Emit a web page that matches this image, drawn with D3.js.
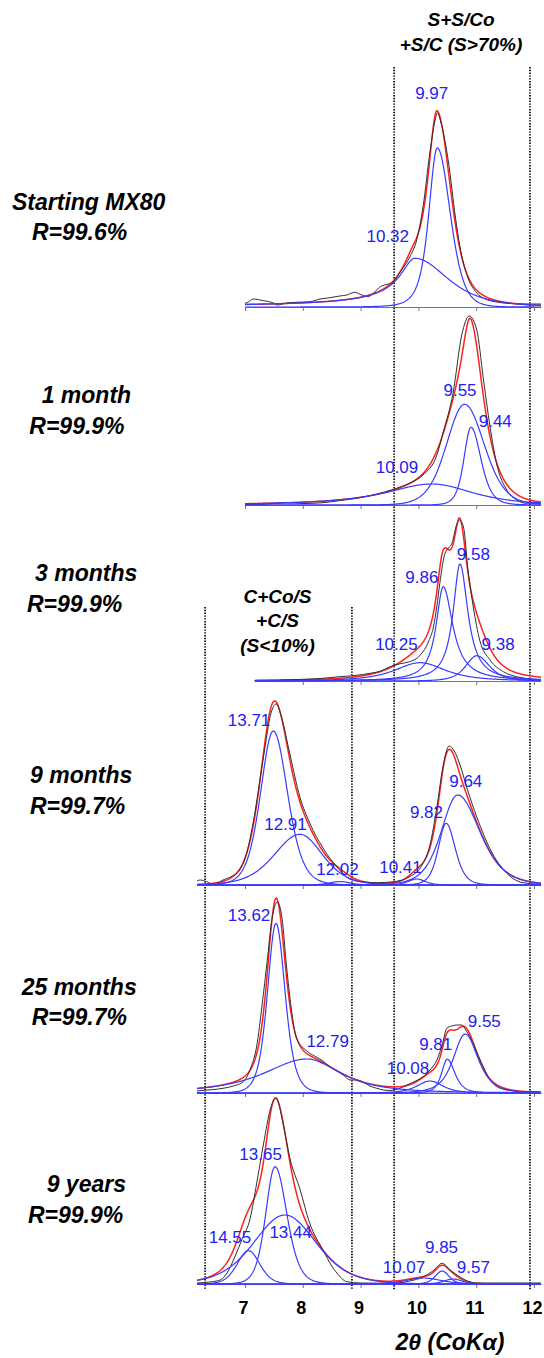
<!DOCTYPE html>
<html>
<head>
<meta charset="utf-8">
<script src="https://cdn.jsdelivr.net/npm/d3@7"></script>
<style>
  body { margin: 0; background: #fff; }
  svg { display: block; }
  text { font-family: "Liberation Sans", Arial, sans-serif; }
</style>
</head>
<body>
<svg id="chart" width="544" height="1358"></svg>
<script>
// sample names and fit quality
const samples = ["Starting MX80", "1 month", "3 months", "9 months", "25 months", "9 years"];
const rFactors = ["R=99.6%", "R=99.9%", "R=99.9%", "R=99.7%", "R=99.7%", "R=99.9%"];
const xTicks = [7, 8, 9, 10, 11, 12];
const zoneLines = [6.31, 8.85, 9.58, 11.93];

// 2theta range of each decomposition
const fitRanges = [[7.0, 12.12], [7.0, 12.12], [7.17, 12.12], [6.17, 12.12], [6.17, 12.12], [6.17, 12.12]];

// fitted peaks: [d (A), 2theta, height, hwhm left, hwhm right, shape left, shape right]
const peaksMX80 = [
  ["9.97", 10.327, 159, 0.173, 0.26, 2, 4],
  ["10.32", 9.94, 48.7, 0.37, 0.66, 0.6, 2]
];
const peaks1m = [
  ["10.09", 10.23, 21, 0.95, 0.83, 1.2, 2],
  ["9.55", 10.8, 100.7, 0.37, 0.4, 5, 5],
  ["9.44", 10.91, 77.7, 0.144, 0.202, 3, 3]
];
const peaks3m = [
  ["10.25", 10.03, 18.3, 0.52, 0.52, 1.5, 1.5],
  ["9.86", 10.43, 94.3, 0.15, 0.2, 1, 1],
  ["9.58", 10.72, 117, 0.145, 0.165, 1, 1],
  ["9.38", 11.01, 25.3, 0.225, 0.26, 2, 2]
];
const peaks9m = [
  ["13.71", 7.49, 154, 0.26, 0.29, 4, 4],
  ["12.91", 7.95, 50.7, 0.52, 0.46, 4, 4],
  ["12.02", 8.64, 3.5, 0.2, 0.2, 3, 3],
  ["10.41", 9.97, 6, 0.17, 0.17, 3, 3],
  ["9.82", 10.48, 61.7, 0.16, 0.185, 3, 3],
  ["9.64", 10.68, 90, 0.334, 0.45, 3, 3]
];
const peaks25m = [
  ["13.62", 7.536, 169.7, 0.173, 0.185, 3, 3],
  ["12.79", 8.07, 34, 0.865, 0.69, 1.5, 1.5],
  ["10.08", 10.2, 12, 0.26, 0.26, 2, 2],
  ["9.81", 10.5, 33.7, 0.116, 0.155, 2, 2],
  ["9.55", 10.81, 59, 0.24, 0.26, 2, 2]
];
const peaks9y = [
  ["14.55", 7.06, 33.3, 0.23, 0.23, 5, 5],
  ["13.65", 7.52, 117.3, 0.19, 0.24, 4, 4],
  ["13.44", 7.69, 69, 0.635, 0.635, 4, 4],
  ["10.07", 10.09, 6, 0.35, 0.35, 3, 3],
  ["9.85", 10.41, 13, 0.14, 0.14, 3, 3],
  ["9.57", 10.6, 5, 0.18, 0.18, 3, 3]
];

// where each peak label sits: [2theta, intensity]
const labelsMX80 = [[10.23, 208], [9.47, 64.7]];
const labels1m = [[9.63, 32.3], [10.72, 109], [11.33, 78.3]];
const labels3m = [[9.62, 31], [10.06, 98.3], [10.95, 121], [11.38, 31]];
const labels9m = [[7.07, 159], [7.70, 55], [8.60, 10], [9.69, 12.3], [10.14, 66.7], [10.82, 98.3]];
const labels25m = [[7.07, 172.3], [8.43, 46.3], [9.82, 18.7], [10.30, 43], [11.14, 66.3]];
const labels9y = [[6.74, 40.7], [7.27, 124], [7.79, 45.7], [9.75, 10.7], [10.40, 31.3], [10.95, 11.3]];

// measured patterns: [2theta, intensity]
const obsMX80 = [[7.0,4],[7.02,4],[7.14,8],[7.32,6.3],[7.49,4],[7.55,2],[7.72,4],[7.89,4.7],[8.12,5.3],[8.30,8],[8.47,9.3],[8.64,11],[8.76,12],[8.90,14.7],[9.02,12],[9.13,10.3],[9.22,13.7],[9.34,20.3],[9.48,23],[9.57,25.3],[9.65,32],[9.71,37],[9.85,50],[9.97,67],[10.08,100],[10.20,155],[10.29,187],[10.33,194],[10.40,182],[10.52,145],[10.64,90],[10.72,60],[10.84,32],[11.01,14],[11.12,9],[11.35,5],[11.58,3.5],[11.81,3],[12.05,3],[12.12,3]];
const obs1m = [[7.0,0.5],[7.26,0.5],[7.5,1.5],[7.72,2.3],[8.0,1.5],[8.35,2.3],[8.65,4.5],[8.93,6.7],[9.25,10.5],[9.57,15.7],[9.85,22],[10.08,30],[10.32,50],[10.43,73],[10.60,112],[10.75,170],[10.88,189],[11.01,175],[11.12,128],[11.24,78],[11.35,42],[11.53,15],[11.70,5],[11.87,1.7],[12.12,1.7]];
const obs3m = [[7.17,0.5],[7.6,1],[7.9,1.5],[8.3,2.5],[8.64,4.3],[8.9,5.5],[9.16,7.7],[9.35,10],[9.51,14.3],[9.7,17.5],[9.85,19.3],[10.0,24],[10.08,29.3],[10.18,40],[10.26,54],[10.32,75],[10.37,97.7],[10.46,127.7],[10.52,133],[10.58,137.7],[10.66,156],[10.71,161],[10.78,154],[10.86,110],[10.95,74],[11.06,41],[11.24,21],[11.47,9.3],[11.70,4.3],[11.93,2],[12.12,1]];
const obs9m = [[6.17,4],[6.22,5],[6.35,3],[6.45,0.5],[6.62,5],[6.78,9],[6.91,15],[7.02,30],[7.14,62],[7.32,128],[7.45,172],[7.54,181],[7.62,170],[7.78,130],[7.95,88],[8.12,62],[8.35,37],[8.59,18],[8.82,5.7],[9.05,3],[9.28,2.3],[9.57,3.3],[9.85,8.3],[10.08,21.7],[10.2,40],[10.32,78],[10.43,120],[10.53,139],[10.62,134],[10.72,120],[10.85,95],[11.01,68],[11.24,36],[11.53,11.7],[11.81,2.3],[12.07,1],[12.12,1]];
const obs25m = [[6.17,2],[6.22,2.3],[6.62,4.7],[6.8,7],[6.97,11.3],[7.1,25],[7.2,46],[7.3,90],[7.38,130],[7.47,175],[7.56,191],[7.64,175],[7.72,126],[7.8,85],[7.89,55],[8.07,42],[8.2,37],[8.35,32],[8.47,26],[8.59,22],[8.7,18],[8.82,13],[8.93,13],[9.04,11],[9.16,7],[9.28,4.7],[9.4,3],[9.51,2.5],[9.65,4],[9.80,8],[9.95,12],[10.08,16.3],[10.2,23],[10.32,33],[10.42,50],[10.49,64.7],[10.58,67],[10.66,68],[10.75,68],[10.82,63],[10.89,56.3],[11.07,33],[11.24,13],[11.47,3.7],[11.76,1.5],[12.12,1]];
const obs9y = [[6.17,1],[6.39,2],[6.57,4],[6.7,12],[6.80,24],[6.95,45],[7.09,65.7],[7.2,100],[7.32,140],[7.44,175],[7.54,186],[7.66,160],[7.78,125],[7.95,95],[8.12,60.7],[8.35,34],[8.5,18],[8.59,11],[8.76,2.3],[8.99,1],[9.3,0.8],[9.62,1],[9.85,3],[10.08,7],[10.25,13],[10.41,20.7],[10.55,14],[10.72,7],[10.85,3],[11.01,1],[12.12,1]];

const allPeaks = [peaksMX80, peaks1m, peaks3m, peaks9m, peaks25m, peaks9y];
const allLabels = [labelsMX80, labels1m, labels3m, labels9m, labels25m, labels9y];
const allObs = [obsMX80, obs1m, obs3m, obs9m, obs25m, obs9y];

// layout
const baselines = [307, 505, 681, 885, 1093, 1284];
const nameLines = [[12, 210], [41.7, 403.3], [35, 580.7], [30, 782.7], [21.7, 995], [46.7, 1191.7]];
const rLines = [[32, 239.5], [29.3, 434], [27, 611.5], [30, 814], [31.7, 1025], [28, 1222.7]];

const svg = d3.select("#chart");
const x = d3.scaleLinear().domain([7, 12]).range([245, 534]);

// split Pearson VII profile
function profile(p, t) {
  const left = t < p[1];
  const w = left ? p[3] : p[4];
  const m = left ? p[5] : p[6];
  const u = (t - p[1]) / w;
  return p[2] / Math.pow(1 + u * u * (Math.pow(2, 1 / m) - 1), m);
}

// dotted zone boundaries
const zoneTop = [607, 607, 67, 67];
svg.append("g").selectAll("line")
  .data(zoneLines)
  .enter().append("line")
  .attr("x1", d => x(d)).attr("x2", d => x(d))
  .attr("y1", (d, i) => zoneTop[i]).attr("y2", 1290)
  .attr("stroke", "#111").attr("stroke-width", 1.8)
  .attr("stroke-dasharray", "1.4 1.4");

allPeaks.forEach((peaks, i) => {
  const base = baselines[i];
  const y = d3.scaleLinear().domain([0, 200]).range([base, base - 200]);
  const [lo, hi] = fitRanges[i];
  const xs = x.copy().domain([lo, hi]).range([x(lo), x(hi)]);
  const g = svg.append("g");

  const axis = d3.axisBottom(xs)
    .tickValues(xTicks.filter(t => t >= lo && t <= hi))
    .tickSizeInner(4).tickSizeOuter(0).tickPadding(13)
    .tickFormat(i === samples.length - 1 ? d3.format("d") : "");
  const ax = g.append("g").attr("transform", `translate(0,${base})`).call(axis);
  ax.select(".domain").attr("stroke", "#777").attr("stroke-width", 1.2);
  ax.selectAll(".tick line").attr("stroke", "#777");
  ax.selectAll(".tick text")
    .attr("fill", "#000").attr("dx", "-2")
    .style("font-size", "18px").style("font-weight", "bold");

  const grid = d3.range(lo, hi + 1e-9, 0.01);
  const line = d3.line().x(d => x(d[0])).y(d => y(d[1]));

  // fit = sum of components
  const fit = grid.map(t => [t, d3.sum(peaks, p => profile(p, t))]);
  g.append("path").datum(fit).attr("d", line)
    .attr("fill", "none").attr("stroke", "#ff2020").attr("stroke-width", 1.5);

  g.append("path").datum(allObs[i])
    .attr("d", line.curve(d3.curveMonotoneX))
    .attr("fill", "none").attr("stroke", "#303030").attr("stroke-width", 1);
  line.curve(d3.curveLinear);

  g.selectAll(".comp").data(peaks).enter().append("path")
    .attr("class", "comp")
    .attr("d", p => line(grid.map(t => [t, profile(p, t)])))
    .attr("fill", "none").attr("stroke", "#3a3aff").attr("stroke-width", 1.2);

  g.selectAll(".plabel").data(peaks).enter().append("text")
    .attr("class", "plabel")
    .attr("x", (p, k) => x(allLabels[i][k][0]))
    .attr("y", (p, k) => y(allLabels[i][k][1]))
    .attr("text-anchor", "middle")
    .attr("fill", "#2222f0")
    .style("font-size", "17px")
    .text(p => p[0]);

  svg.append("text")
    .attr("x", nameLines[i][0]).attr("y", nameLines[i][1])
    .style("font-size", "23px").style("font-weight", "bold").style("font-style", "italic")
    .text(samples[i]);
  svg.append("text")
    .attr("x", rLines[i][0]).attr("y", rLines[i][1])
    .style("font-size", "23px").style("font-weight", "bold").style("font-style", "italic")
    .text(rFactors[i]);
});

// zone headers
const zoneText = (lines, cx, ys) => lines.forEach((t, k) =>
  svg.append("text").attr("x", cx).attr("y", ys[k]).attr("text-anchor", "middle")
    .style("font-size", "19px").style("font-weight", "bold").style("font-style", "italic")
    .text(t));
zoneText(["S+S/Co", "+S/C (S>70%)"], 461, [26, 50.7]);
zoneText(["C+Co/S", "+C/S", "(S<10%)"], 277.5, [602.7, 626.7, 651.7]);

svg.append("text")
  .attr("x", 450).attr("y", 1350).attr("text-anchor", "middle")
  .style("font-size", "23px").style("font-weight", "bold").style("font-style", "italic")
  .text("2θ (CoKα)");
</script>
</body>
</html>
